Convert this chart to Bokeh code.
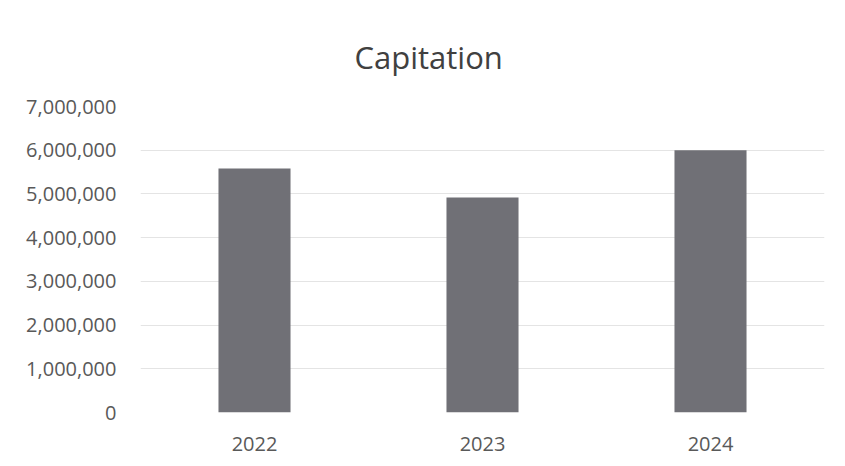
from bokeh.plotting import figure
from bokeh.models import NumeralTickFormatter, FixedTicker, Range1d
from bokeh.embed import file_html
from bokeh.resources import INLINE

years = ["2022", "2023", "2024"]
values = [5580000, 4920000, 6000000]
y_ticks = [0, 1000000, 2000000, 3000000, 4000000, 5000000, 6000000, 7000000]

p = figure(x_range=years, y_range=Range1d(0, 7000000), width=829, height=458,
           output_backend="svg", toolbar_location=None, title="Capitation",
           min_border_left=140, min_border_right=5, min_border_top=106, min_border_bottom=46)

p.vbar(x=years, top=values, width=0.316, fill_color="#707076", line_color=None)

p.title.align = "left"
p.title.text_font = "Open Sans"
p.title.text_font_size = "31px"
p.title.text_font_style = "normal"
p.title.text_color = "#404040"
p.title.offset = 214
p.title.standoff = 57

p.yaxis.ticker = FixedTicker(ticks=y_ticks)
p.yaxis.formatter = NumeralTickFormatter(format="0,0")
for ax in (p.xaxis, p.yaxis):
    ax.axis_line_color = None
    ax.major_tick_line_color = None
    ax.minor_tick_line_color = None
    ax.major_label_text_font = "Open Sans"
    ax.major_label_text_font_size = "20px"
    ax.major_label_text_color = "#595959"
p.yaxis.major_label_standoff = 18
p.xaxis.major_label_standoff = 18

p.xgrid.grid_line_color = None
p.ygrid.grid_line_color = "#e4e4e4"
p.outline_line_color = None
p.background_fill_color = "white"
p.border_fill_color = "white"

open("out.html", "w").write(file_html(p, INLINE))
